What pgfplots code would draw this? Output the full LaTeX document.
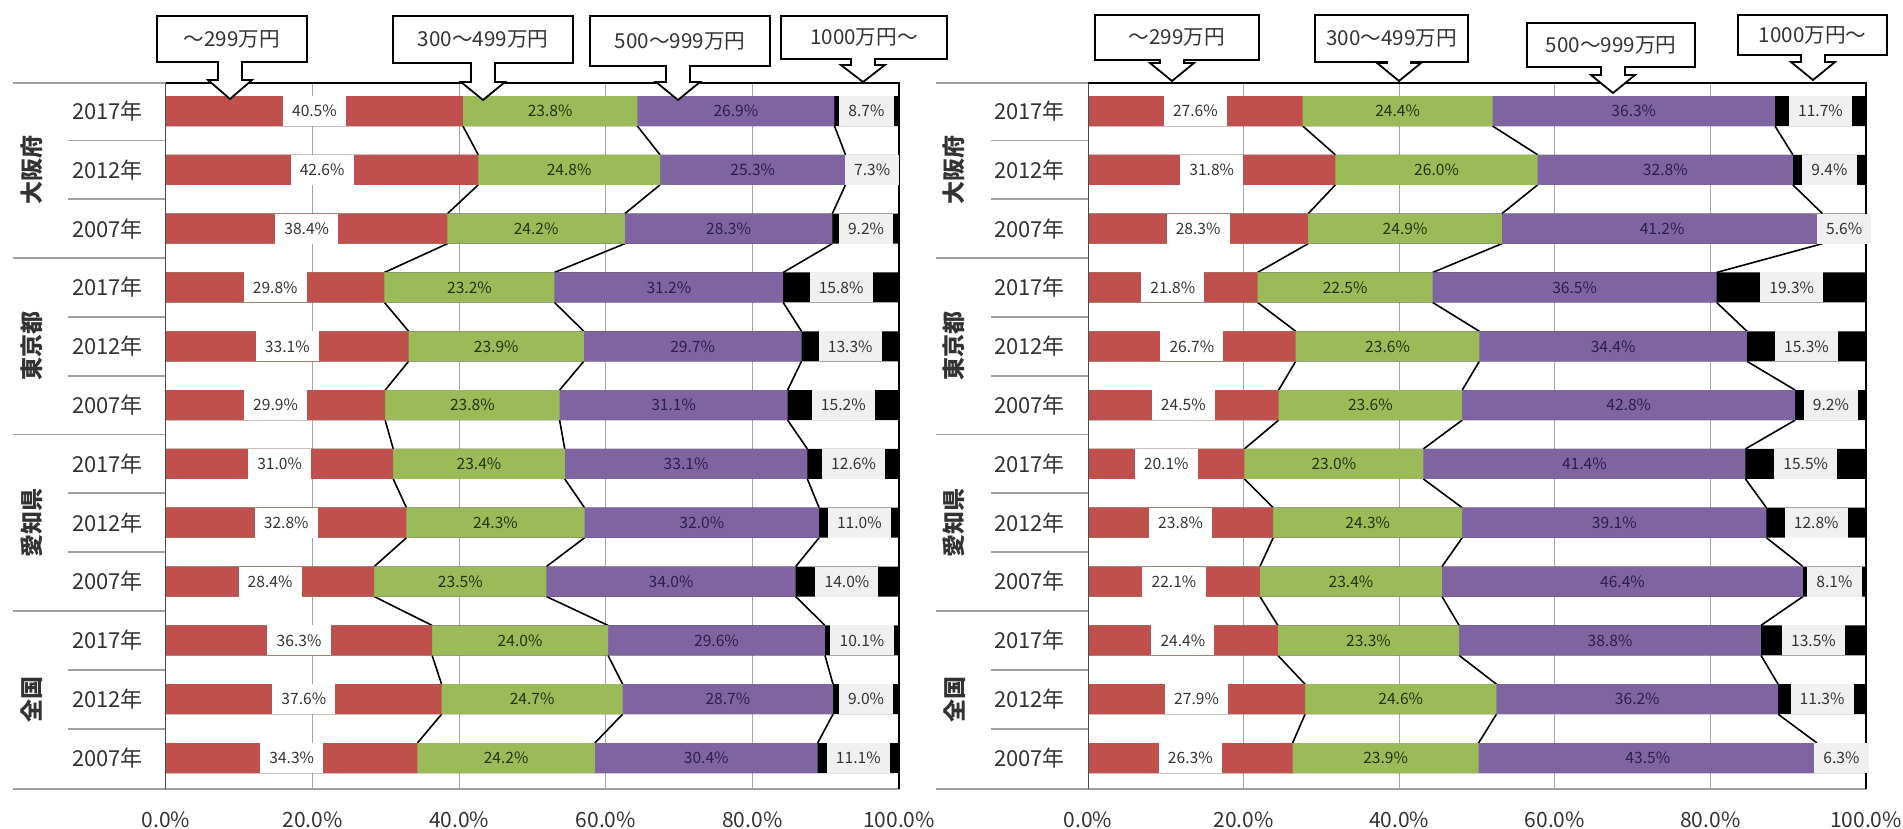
\documentclass[border=0pt]{standalone}
\usepackage{fontspec}
\setmainfont{Noto Sans CJK JP}
\usepackage{pgfplots}
\usepackage{pgfplotstable}
\pgfplotsset{compat=1.18}

\definecolor{cRed}{HTML}{C0504D}
\definecolor{cGreen}{HTML}{9BBB59}
\definecolor{cPurple}{HTML}{8064A2}
\definecolor{tGreen}{HTML}{26330F}
\definecolor{tPurple}{HTML}{2B1F4D}
\definecolor{tGray}{HTML}{333333}
\definecolor{gridc}{HTML}{A6A6A6}
\definecolor{sepc}{HTML}{A0A0A0}

% rows: 大阪府 2017/2012/2007, 東京都, 愛知県, 全国 ; a=~299, b=300~499, c=500~999, d=1000~
\pgfplotstableread{
row a b c d
0 40.5 23.8 26.9 8.7
1 42.6 24.8 25.3 7.3
2 38.4 24.2 28.3 9.2
3 29.8 23.2 31.2 15.8
4 33.1 23.9 29.7 13.3
5 29.9 23.8 31.1 15.2
6 31.0 23.4 33.1 12.6
7 32.8 24.3 32.0 11.0
8 28.4 23.5 34.0 14.0
9 36.3 24.0 29.6 10.1
10 37.6 24.7 28.7 9.0
11 34.3 24.2 30.4 11.1
}\dataL

\pgfplotstableread{
row a b c d
0 27.6 24.4 36.3 11.7
1 31.8 26.0 32.8 9.4
2 28.3 24.9 41.2 5.6
3 21.8 22.5 36.5 19.3
4 26.7 23.6 34.4 15.3
5 24.5 23.6 42.8 9.2
6 20.1 23.0 41.4 15.5
7 23.8 24.3 39.1 12.8
8 22.1 23.4 46.4 8.1
9 24.4 23.3 38.8 13.5
10 27.9 24.6 36.2 11.3
11 26.3 23.9 43.5 6.3
}\dataR

\pgfplotstablecreatecol[expr={\thisrow{a}+\thisrow{b}}]{ab}\dataL
\pgfplotstablecreatecol[expr={\thisrow{ab}+\thisrow{c}}]{abc}\dataL
\pgfplotstablecreatecol[expr={\thisrow{abc}+\thisrow{d}}]{abcd}\dataL
\pgfplotstablecreatecol[expr={\thisrow{a}+\thisrow{b}}]{ab}\dataR
\pgfplotstablecreatecol[expr={\thisrow{ab}+\thisrow{c}}]{abc}\dataR
\pgfplotstablecreatecol[expr={\thisrow{abc}+\thisrow{d}}]{abcd}\dataR

\tikzset{
  sep/.style={draw=sepc, line width=0.9pt},
  grp/.style={rotate=90, font=\fontsize{11.5}{13}\selectfont\bfseries, text=tGray},
}
\pgfplotsset{
  /pgf/number format/assume math mode=true,
  panel/.style={
    scale only axis, height=353pt,
    xmin=0, xmax=100, ymin=-0.476, ymax=11.527, y dir=reverse,
    clip=false,
    axis line style={draw=none},
    xtick={0,20,...,100},
    xticklabel={\pgfmathprintnumber[fixed,fixed zerofill,precision=1]{\tick}\%},
    ytick={0,...,11},
    yticklabels={2017年,2012年,2007年,2017年,2012年,2007年,2017年,2012年,2007年,2017年,2012年,2007年},
    major tick length=0pt,
    xmajorgrids, major grid style={gridc, line width=0.5pt},
    x tick label style={font=\fontsize{10.5}{12}\selectfont, text=tGray, yshift=-8pt},
    y tick label style={font=\fontsize{11}{13}\selectfont, text=tGray, xshift=-8pt},
  },
  conn/.style={black, line width=0.8pt, mark=none},
  seg/.style={xbar, bar width=0.51, bar shift=0pt, draw=none},
  lab/.style={draw=none, mark=none, point meta=explicit,
    nodes near coords={\pgfmathprintnumber[fixed,fixed zerofill,precision=1]{\pgfplotspointmeta}\%},
    every node near coord/.append style={anchor=center, font=\fontsize{7.8}{9}\selectfont,
      inner xsep=4.6pt, inner ysep=0pt, minimum height=15pt}},
}

% #1 table, #2 x of long separators, #3 x of short separators, #4 x of group names
\newcommand\panelplots[4]{%
  \pgfplotsinvokeforeach{0,...,10}{%
    \pgfmathtruncatemacro\nx{##1+1}%
    \pgfmathsetmacro\ya{##1+0.255}%
    \pgfmathsetmacro\yb{##1+0.745}%
    \pgfplotstablegetelem{##1}{a}\of#1\let\pa\pgfplotsretval
    \pgfplotstablegetelem{\nx}{a}\of#1\let\qa\pgfplotsretval
    \pgfplotstablegetelem{##1}{ab}\of#1\let\pb\pgfplotsretval
    \pgfplotstablegetelem{\nx}{ab}\of#1\let\qb\pgfplotsretval
    \pgfplotstablegetelem{##1}{abc}\of#1\let\pc\pgfplotsretval
    \pgfplotstablegetelem{\nx}{abc}\of#1\let\qc\pgfplotsretval
    \addplot[conn] coordinates {(\pa,\ya) (\qa,\yb)};
    \addplot[conn] coordinates {(\pb,\ya) (\qb,\yb)};
    \addplot[conn] coordinates {(\pc,\ya) (\qc,\yb)};
  }
  \addplot[seg, fill=black] table[x=abcd, y=row] {#1};
  \addplot[seg, fill=cPurple] table[x=abc, y=row] {#1};
  \addplot[seg, fill=cGreen] table[x=ab, y=row] {#1};
  \addplot[seg, fill=cRed] table[x=a, y=row] {#1};
  \addplot[lab, every node near coord/.append style={fill=white, text=tGray}]
    table[x expr=\thisrow{a}/2, y=row, meta=a] {#1};
  \addplot[lab, every node near coord/.append style={text=tGreen}]
    table[x expr=\thisrow{a}+\thisrow{b}/2, y=row, meta=b] {#1};
  \addplot[lab, every node near coord/.append style={text=tPurple}]
    table[x expr=\thisrow{ab}+\thisrow{c}/2, y=row, meta=c] {#1};
  \addplot[lab, every node near coord/.append style={fill=black!6, text=tGray}]
    table[x expr=\thisrow{abc}+\thisrow{d}/2, y=row, meta=d] {#1};
  \draw[sep] (axis cs:#2,-0.476) -- (axis cs:0,-0.476);
  \pgfplotsinvokeforeach{2.5,5.5,8.5}{\draw[sep] (axis cs:#2,##1) -- (axis cs:0,##1);}
  \pgfplotsinvokeforeach{0.5,1.5,3.5,4.5,6.5,7.5,9.5,10.5}{\draw[sep] (axis cs:#3,##1) -- (axis cs:0,##1);}
  \draw[draw=sepc, line width=1.3pt] (axis cs:#2,11.527) -- (axis cs:100,11.527);
  \draw[draw=black!70, line width=0.5pt] (axis cs:0,-0.476) -- (axis cs:0,11.527);
  \draw[draw=black, line width=0.9pt] (axis cs:0,-0.476) -- (axis cs:100,-0.476) -- (axis cs:100,11.527);
  \node[grp] at (axis cs:#4,1) {大阪府};
  \node[grp] at (axis cs:#4,4) {東京都};
  \node[grp] at (axis cs:#4,7) {愛知県};
  \node[grp] at (axis cs:#4,10) {全国};
}

% callout box with a block arrow, coordinates in pixels of the reference
\newcommand\callout[8]{%
  \draw[line width=0.9pt, fill=white, line join=miter]
    (#1,#3) -- (#2,#3) -- (#2,#4) -- (#5+12,#4) -- (#5+12,#7) -- (#5+22,#7) -- (#5,#6)
    -- (#5-22,#7) -- (#5-12,#7) -- (#5-12,#4) -- (#1,#4) -- cycle;
  \node[font=\fontsize{10.3}{12}\selectfont, text=tGray] at ({(#1+#2)/2},{(#3+#4)/2}) {#8};
}

\begin{document}
\begin{tikzpicture}
\useasboundingbox (0,0) rectangle (951.5pt,-414.5pt);

\begin{axis}[panel, width=366.5pt, at={(83pt,-394.5pt)}, anchor=south west]
  \panelplots{\dataL}{-20.9}{-13.4}{-18.3}
\end{axis}

\begin{axis}[panel, width=389pt, at={(544pt,-394.5pt)}, anchor=south west]
  \panelplots{\dataR}{-19.5}{-12.5}{-17.2}
\end{axis}

\begin{scope}[x=0.5pt, y=-0.5pt]
  \callout{157}{307}{16}{62}{230}{99}{80}{～299万円}
  \callout{393}{573}{16}{63}{483}{100}{82}{300～499万円}
  \callout{590}{770}{16}{66}{678}{100}{82}{500～999万円}
  \callout{781}{947}{16}{59}{863}{82}{65}{1000万円～}
  \callout{1095}{1259}{15}{60}{1172}{81}{63}{～299万円}
  \callout{1315}{1468}{15}{62}{1399}{81}{63}{300～499万円}
  \callout{1527}{1695}{23}{67}{1613}{93}{75}{500～999万円}
  \callout{1738}{1887}{15}{55}{1813}{80}{62}{1000万円～}
\end{scope}
\end{tikzpicture}
\end{document}
